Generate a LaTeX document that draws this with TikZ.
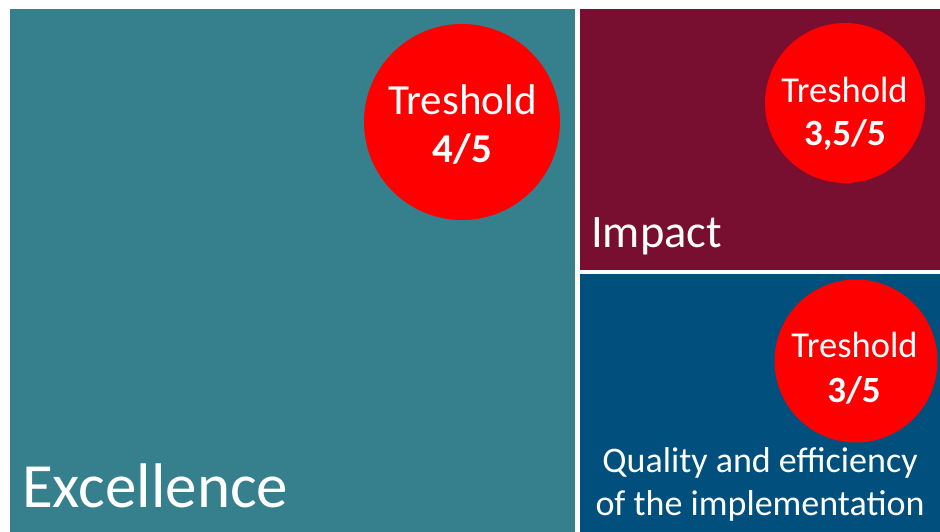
\documentclass[tikz,border=0pt]{standalone}
\usepackage{fontspec}
\setmainfont{Carlito}
\usepackage{xcolor}
\usepackage{tikz}

\definecolor{exteal}{RGB}{54,127,140}
\definecolor{impmaroon}{RGB}{120,14,48}
\definecolor{qualblue}{RGB}{0,79,125}
\definecolor{tresred}{RGB}{255,0,0}

\begin{document}
\begin{tikzpicture}[x=1pt,y=-1pt,
    block/.style={draw=none},
    thresh/.style={circle,fill=tresred,draw=none,inner sep=0pt},
    label/.style={text=white,inner sep=0pt},
  ]
      \useasboundingbox[fill=white] (0,0) rectangle (940,532);
      % the three blocks
      \fill[exteal,block]    (10,9) rectangle (575,532);
      \fill[impmaroon,block] (580,9) rectangle (940,270);
      \fill[qualblue,block]  (580,274) rectangle (940,532);
      % threshold circles
      \node[thresh,minimum size=196pt] (excirc)  at (462,122) {};
      \node[thresh,minimum size=160pt] (impcirc) at (845,103) {};
      \node[thresh,minimum size=163pt] (qualcirc) at (856,361) {};
      % circle texts
      \node[label,anchor=base,font=\fontsize{43}{48}\selectfont] (extres) at (462.5,115) {Treshold};
      \node[label,anchor=base,font=\fontsize{41}{46}\selectfont\bfseries] (exval) at (462.5,163) {4/5};
      \node[label,anchor=base,font=\fontsize{36.5}{42}\selectfont] (imptres) at (844.5,103) {Treshold};
      \node[label,anchor=base,font=\fontsize{37}{42}\selectfont\bfseries] (impval) at (845,146) {3,5/5};
      \node[label,anchor=base,font=\fontsize{36.5}{42}\selectfont] (qualtres) at (854.5,357) {Treshold};
      \node[label,anchor=base,font=\fontsize{37}{42}\selectfont\bfseries] (qualval) at (854,402) {3/5};
      % block titles
      \node[label,anchor=base west,font=\fontsize{63}{70}\selectfont] (extitle) at (22,507) {Excellence};
      \node[label,anchor=base west,font=\fontsize{46.5}{52}\selectfont] (imptitle) at (591,247) {Impact};
      \node[label,anchor=base,font=\fontsize{36}{42}\selectfont] (qualtitle) at (760,472) {Quality and efficiency};
      \node[label,anchor=base,font=\fontsize{36}{42}\selectfont] (qualtitleb) at (760,515) {of the implementation};
\end{tikzpicture}
\end{document}
